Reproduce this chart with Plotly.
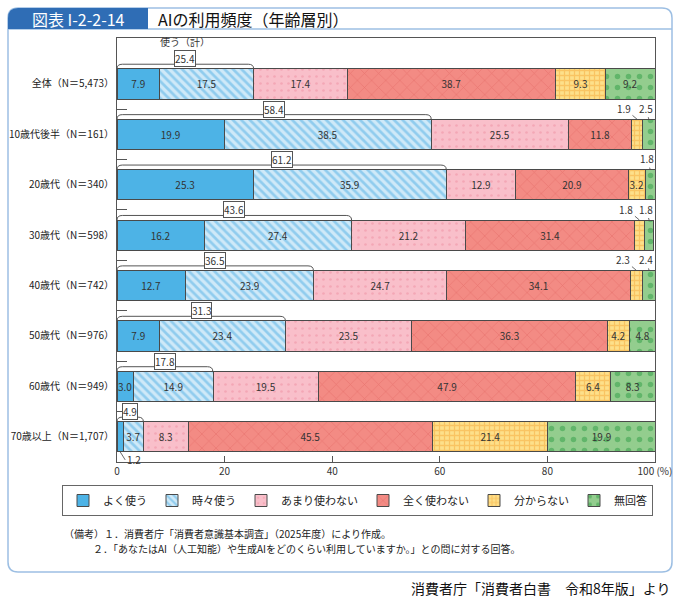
import plotly.graph_objects as go

categories = ["全体（N＝5,473）", "10歳代後半（N＝161）", "20歳代（N＝340）", "30歳代（N＝598）",
              "40歳代（N＝742）", "50歳代（N＝976）", "60歳代（N＝949）", "70歳以上（N＝1,707）"]
series_names = ["よく使う", "時々使う", "あまり使わない", "全く使わない", "分からない", "無回答"]
yoku = [7.9, 19.9, 25.3, 16.2, 12.7, 7.9, 3.0, 1.2]
tokidoki = [17.5, 38.5, 35.9, 27.4, 23.9, 23.4, 14.9, 3.7]
amari = [17.4, 25.5, 12.9, 21.2, 24.7, 23.5, 19.5, 8.3]
mattaku = [38.7, 11.8, 20.9, 31.4, 34.1, 36.3, 47.9, 45.5]
wakaranai = [9.3, 1.9, 3.2, 1.8, 2.3, 4.2, 6.4, 21.4]
mukaitou = [9.2, 2.5, 1.8, 1.8, 2.4, 4.8, 8.3, 19.9]
use_total = [25.4, 58.4, 61.2, 43.6, 36.5, 31.3, 17.8, 4.9]
x_ticks = [0, 20, 40, 60, 80, 100]
x_ticktext = ["0", "20", "40", "60", "80", "100 (%)"]

series = [yoku, tokidoki, amari, mattaku, wakaranai, mukaitou]
styles = [
    dict(color="#4db3e6", pattern=dict(shape="")),
    dict(color="#cfe9f8", pattern=dict(shape="\\", fgcolor="#52b0e3", bgcolor="#cfe9f8", size=6, solidity=0.45)),
    dict(color="#f9bfca", pattern=dict(shape=".", fgcolor="#ee8fa2", bgcolor="#f9bfca", size=7, solidity=0.12)),
    dict(color="#f38b84", pattern=dict(shape="x", fgcolor="#dd5c57", bgcolor="#f38b84", size=10, solidity=0.12)),
    dict(color="#fdd46e", pattern=dict(shape="+", fgcolor="#f5a83a", bgcolor="#fde08a", size=5, solidity=0.45)),
    dict(color="#93cd8e", pattern=dict(shape=".", fgcolor="#2f9e45", bgcolor="#93cd8e", size=11, solidity=0.2)),
]

FONT = "Noto Sans CJK JP"
L, R, T, B = 117, 655, 38, 462
W, H = 680, 600
PW, PH = R - L, B - T


def px(xp):
    return (xp - L) / PW


def py(yp):
    return (B - yp) / PH


ypos = list(range(len(categories)))
HALF = 0.3
SMALL = 3.0

fig = go.Figure()
for name, vals, st in zip(series_names, series, styles):
    txt = [f"{v:.1f}" if v >= SMALL else "" for v in vals]
    fig.add_trace(go.Bar(
        name=name, x=vals, y=ypos, orientation="h", width=2 * HALF,
        marker=dict(color=st["color"], pattern=st["pattern"], line=dict(color="#4a4a4a", width=1)),
        text=txt, textposition="inside", insidetextanchor="middle", constraintext="none",
        textfont=dict(family=FONT, size=10, color="#333333"),
        hoverinfo="x+name",
    ))

shapes = []
annotations = []

# brackets for 使う（計）
for i, tot in enumerate(use_total):
    yt = i - 0.39
    yb = i - HALF
    r = min(1.0, tot / 4)
    path = (f"M 0,{yb} Q 0,{yt} {r},{yt} L {tot - r},{yt} Q {tot},{yt} {tot},{yb}")
    shapes.append(dict(type="path", xref="x", yref="y", path=path,
                       line=dict(color="#555555", width=1)))
    annotations.append(dict(x=tot / 2, y=yt, xref="x", yref="y", text=f"{tot:.1f}",
                            showarrow=False, xanchor="center", yanchor="bottom", yshift=-3,
                            bordercolor="#555555", borderwidth=1, borderpad=0, bgcolor="white",
                            font=dict(family=FONT, size=10, color="#333333")))
annotations.append(dict(x=use_total[0] / 2, y=-0.84, xref="x", yref="y", text="使う（計）",
                        showarrow=False, xanchor="center", yanchor="middle",
                        font=dict(family=FONT, size=10, color="#333333")))

# small value labels with leader lines
for i in ypos:
    start = 0.0
    rowvals = [s[i] for s in series]
    for j, v in enumerate(rowvals):
        c = start + v / 2
        if v < SMALL:
            if j == 0:
                annotations.append(dict(x=c, y=i + HALF, xref="x", yref="y", text=f"{v:.1f}",
                                        showarrow=True, arrowhead=0, arrowwidth=0.8, arrowcolor="#444",
                                        ax=5, ay=8, xanchor="left", yanchor="middle",
                                        font=dict(family=FONT, size=10, color="#333333")))
            else:
                nxt_small = j + 1 < len(rowvals) and rowvals[j + 1] < SMALL
                annotations.append(dict(x=c, y=i - HALF, xref="x", yref="y", text=f"{v:.1f}",
                                        showarrow=True, arrowhead=0, arrowwidth=0.8, arrowcolor="#444",
                                        ax=-13 if nxt_small else -3, ay=-11,
                                        font=dict(family=FONT, size=10, color="#333333")))
        start += v

# outer frame
FR = "#9dbfe3"


def pp(xp, yp):
    return f"{px(xp)},{py(yp)}"


x0f, x1f, y0f, y1f, rr = 8, 672, 8, 572, 10
frame = (f"M {pp(x0f, y0f + rr)} L {pp(x0f, y1f - rr)} Q {pp(x0f, y1f)} {pp(x0f + rr, y1f)} "
         f"L {pp(x1f - rr, y1f)} Q {pp(x1f, y1f)} {pp(x1f, y1f - rr)} "
         f"L {pp(x1f, y0f + rr)} Q {pp(x1f, y0f)} {pp(x1f - rr, y0f)} "
         f"L {pp(x0f + rr, y0f)} Q {pp(x0f, y0f)} {pp(x0f, y0f + rr)} Z")
shapes.append(dict(type="path", xref="paper", yref="paper", path=frame,
                   line=dict(color=FR, width=1.5), layer="below"))
shapes.append(dict(type="line", xref="paper", yref="paper", x0=px(x0f), x1=px(x1f),
                   y0=py(29), y1=py(29), line=dict(color=FR, width=1.5)))
tab = (f"M {pp(8, 29)} L {pp(8, 8 + rr)} Q {pp(8, 8)} {pp(8 + rr, 8)} L {pp(148, 8)} L {pp(148, 29)} Z")
shapes.append(dict(type="path", xref="paper", yref="paper", path=tab,
                   fillcolor="#2f6db5", line=dict(width=0)))

annotations += [
    dict(x=px(78), y=py(18.5), xref="paper", yref="paper", text="図表 I-2-2-14", showarrow=False,
         xanchor="center", yanchor="middle", font=dict(family=FONT, size=16, color="white")),
    dict(x=px(156), y=py(18.5), xref="paper", yref="paper", text="AIの利用頻度（年齢層別）", showarrow=False,
         xanchor="left", yanchor="middle", font=dict(family=FONT, size=16, color="#111111")),
    dict(x=px(62), y=py(533), xref="paper", yref="paper", showarrow=False, xanchor="left", yanchor="middle",
         text="（備考）１．消費者庁「消費者意識基本調査」（2025年度）により作成。",
         font=dict(family=FONT, size=10, color="#222222")),
    dict(x=px(91), y=py(548), xref="paper", yref="paper", showarrow=False, xanchor="left", yanchor="middle",
         text="２．「あなたはAI（人工知能）や生成AIをどのくらい利用していますか。」との問に対する回答。",
         font=dict(family=FONT, size=10, color="#222222")),
    dict(x=px(673), y=py(588), xref="paper", yref="paper", showarrow=False, xanchor="right", yanchor="middle",
         text="消費者庁「消費者白書　令和8年版」より",
         font=dict(family=FONT, size=14, color="#111111")),
]

fig.update_layout(
    barmode="stack", width=W, height=H,
    margin=dict(l=L, r=W - R, t=T, b=H - B, autoexpand=False),
    paper_bgcolor="white", plot_bgcolor="white",
    font=dict(family=FONT, size=10, color="#333333"),
    shapes=shapes, annotations=annotations,
    legend=dict(orientation="h", x=px(62), y=py(485), xanchor="left", yanchor="top",
                bordercolor="#666666", borderwidth=1, bgcolor="white",
                font=dict(family=FONT, size=11, color="#222222"),
                traceorder="normal", itemwidth=30, tracegroupgap=0),
    showlegend=True,
)
fig.update_xaxes(range=[0, 100], tickvals=x_ticks, ticktext=x_ticktext, ticks="inside", ticklen=6,
                 tickcolor="#555555", showline=True, linecolor="#555555", linewidth=1, mirror=True,
                 showgrid=False, zeroline=False, automargin=False,
                 tickfont=dict(family=FONT, size=10, color="#333333"))
fig.update_yaxes(range=[7.5, -0.91], tickvals=ypos, ticktext=categories, ticks="",
                 minor=dict(tickvals=[k + 0.5 for k in ypos[:-1]], ticks="inside", ticklen=10,
                            tickcolor="#555555", showgrid=False),
                 showline=True, linecolor="#555555", linewidth=1, mirror=True, showgrid=False,
                 zeroline=False, automargin=False,
                 tickfont=dict(family=FONT, size=10, color="#222222"))

fig.write_html("out.html", config={"displayModeBar": False},
               post_script="document.body.style.margin='0';document.body.style.overflow='hidden';")
